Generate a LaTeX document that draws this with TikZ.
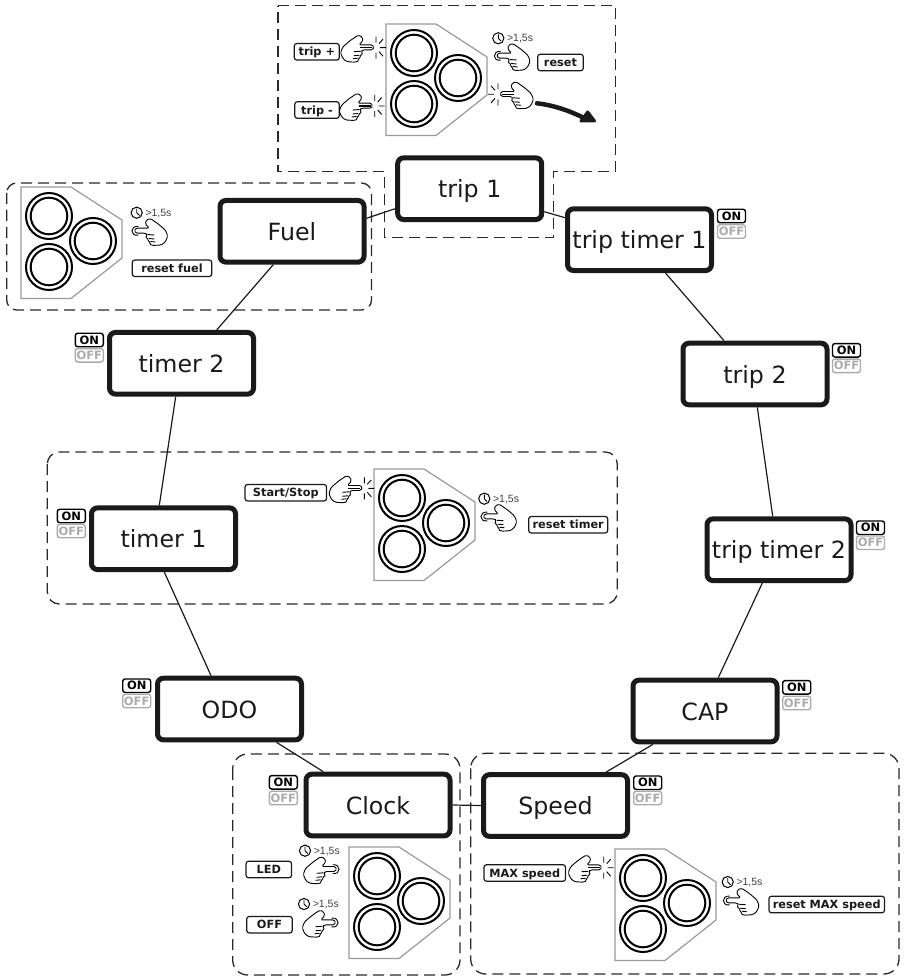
\documentclass[tikz,border=0pt]{standalone}
\usepackage{fontspec}
\setmainfont{DejaVu Sans}
\newfontfamily\smallsans{Liberation Sans}
\definecolor{ink}{HTML}{1A1A1A}
\definecolor{dash}{HTML}{2A2A2A}
\definecolor{podgrey}{HTML}{999999}
\definecolor{offgrey}{HTML}{ABABAB}
\tikzset{
  mode/.style={draw=ink,fill=white,line width=5pt,rounded corners=6pt,minimum width=144pt,minimum height=61.7pt,inner sep=0pt,text=ink,font=\fontsize{23.7}{28}\selectfont,text height=19pt,text depth=0.5pt},
  link/.style={draw=ink,line width=1.2pt},
  zone/.style={draw=dash,line width=1.3pt,dash pattern=on 11pt off 6pt},
  tag/.style={draw=ink,fill=white,line width=1.2pt,rounded corners=2.5pt,inner sep=0pt,font=\bfseries\fontsize{11.3}{13}\selectfont,text=ink,minimum height=16.5pt,text height=8.4pt,text depth=0pt},
  badgeon/.style={draw=black,line width=1.4pt,rounded corners=2.5pt,inner sep=0pt,minimum width=28pt,minimum height=13.5pt,font=\bfseries\fontsize{11.5}{13}\selectfont,text=black,text height=8.3pt,text depth=0pt},
  badgeoff/.style={badgeon,draw=offgrey,text=offgrey},
  slow/.style={inner sep=0pt,anchor=west,font=\smallsans\fontsize{10.5}{12}\selectfont,text=black!75},
  pod/.pic={
    \draw[podgrey,line width=1.2pt,line join=miter] (0,0) -- (50,0) -- (101,33) -- (101,71) -- (50,111.5) -- (0,111.5) -- cycle;
    \foreach \cx/\cy in {28/29,72/54,28/80}{
      \draw[black,line width=2pt] (\cx,\cy) circle (23);
      \draw[black,line width=2pt] (\cx,\cy) circle (18.3);
    }
  },
  clockface/.pic={
    \draw[black,line width=1pt] (0,0) circle (5.6);
    \draw[black,line width=.9pt] (0,-4) -- (0,0) -- (2.8,2.8);
  }
}
\newcommand{\handshape}{%
  \draw[black,line width=.9pt,rounded corners=1.4pt,line join=round]
    (0,-.5) -- (-1.5,-2.8) -- (-15,-2.8) -- (-11,-7) -- (-12,-11) -- (-16,-12.5) -- (-24,-7) -- (-31,-1) -- (-33.5,5) -- (-31,11) -- (-27,14) -- (-18,14.5) -- (-15,13) -- (-16,10.5) -- (-13,10) -- (-14.5,7.5) -- (-11,7) -- (-13,3.5) -- (-11,2.2) -- (-1.5,2.2) -- cycle;
  \draw[black,line width=.9pt] (-13,3.5) -- (-20,4) (-14.5,7.5) -- (-20,8) (-16,10.5) -- (-21,11);}
% #1 = 1 or -1 (facing), #2 #3 = fingertip
\newcommand{\clickhand}[3]{%
  \begin{scope}[shift={(#2,#3)},xscale=#1]
    \handshape
    \draw[black,line width=1.2pt] (-14,0) -- (-2,0);
    \draw[black,line width=.9pt] (2,-5) -- (2,-11) (5,-4) -- (9,-8.5) (6,0) -- (12,0) (5,4) -- (9,8.5) (2,5) -- (2,11);
  \end{scope}}
\newcommand{\holdhand}[3]{%
  \begin{scope}[shift={(#2,#3)},xscale=#1]
    \handshape
    \draw[black,line width=.9pt] (-4,-4.6) .. controls (4.5,-5.5) and (4.5,5.5) .. (-4,4.2);
  \end{scope}}
\newcommand{\onoff}[4]{%
  \node[badgeon] (#1on) at (#2,#3) {ON};
  \node[badgeoff] (#1off) at (#2,#4) {OFF};}
\newcommand{\slowmark}[3]{%
  \pic at (#2,#3) {clockface};
  \node[slow] (#1) at (#2+8.6,#3+.6) {>1,5s};}
\begin{document}
\begin{tikzpicture}[x=1pt,y=-1pt]
\useasboundingbox (0,0) rectangle (904,976);
% dashed zones
\draw[zone] (278,5.7) -- (615.7,5.7) -- (615.7,171.7) -- (553.3,171.7) -- (553.3,237.7) -- (384.7,237.7) -- (384.7,171.7) -- (278,171.7) -- cycle;
\draw[zone,rounded corners=10pt] (6.7,183) rectangle (371.5,310);
\draw[zone,rounded corners=12pt] (47.3,452) rectangle (617.3,604);
\draw[zone,rounded corners=15pt] (232.7,754) rectangle (460,975);
\draw[zone,rounded corners=15pt] (470.7,753.3) rectangle (899,974);
% modes
\node[mode] (trip1) at (469.7,188.7) {trip 1};
\node[mode] (tt1) at (639.5,239.7) {trip timer 1};
\node[mode] (trip2) at (755,374) {trip 2};
\node[mode] (tt2) at (779,549.7) {trip timer 2};
\node[mode] (cap) at (705,711) {CAP};
\node[mode] (speed) at (555.5,805.5) {Speed};
\node[mode] (clock) at (378,805) {Clock};
\node[mode] (odo) at (229.5,709) {ODO};
\node[mode] (timer1) at (163.5,538.7) {timer 1};
\node[mode] (timer2) at (181.5,363.3) {timer 2};
\node[mode] (fuel) at (292,231.3) {Fuel};
% links
\draw[link] ([yshift=13pt]fuel.east) -- ([yshift=-20pt]trip1.west);
\draw[link] ([yshift=-23pt]trip1.east) -- ([yshift=22pt]tt1.west);
\draw[link] ([xshift=26pt]tt1.south) -- ([xshift=-31pt]trip2.north);
\draw[link] ([xshift=2.3pt]trip2.south) -- ([xshift=-6.3pt]tt2.north);
\draw[link] ([xshift=-16.7pt]tt2.south) -- ([xshift=13.3pt]cap.north);
\draw[link] ([xshift=-52pt]cap.south) -- ([xshift=50.5pt]speed.north);
\draw[link] (clock.east) -- (speed.west);
\draw[link] ([xshift=47pt]odo.south) -- ([xshift=-54.7pt]clock.north);
\draw[link] ([xshift=.8pt]timer1.south) -- ([xshift=-18.5pt]odo.north);
\draw[link] ([xshift=-5.8pt]timer2.south) -- ([xshift=-4.2pt]timer1.north);
\draw[link] ([xshift=-18.7pt]fuel.south) -- ([xshift=35.2pt]timer2.north);
% ON/OFF badges
\onoff{a}{731.5}{216}{231.5}
\onoff{b}{846.5}{350.3}{365.8}
\onoff{c}{870.5}{527.7}{542.7}
\onoff{d}{796.7}{687.3}{703}
\onoff{e}{647.7}{782.7}{798}
\onoff{f}{283.3}{782.3}{798}
\onoff{g}{136.7}{685.7}{701}
\onoff{h}{71.3}{516}{531}
\onoff{i}{89.3}{340}{355.3}
% button pods
\pic at (386,24) {pod};
\pic at (21,187) {pod};
\pic at (374,469) {pod};
\pic at (349,847) {pod};
\pic at (615,849) {pod};
% action tags
\node[tag,minimum width=45pt] (tplus) at (316.8,51.8) {trip +};
\node[tag,minimum width=44.5pt] (tminus) at (317,110) {trip -};
\node[tag,minimum width=45.5pt] (treset) at (560.5,62.5) {reset};
\node[tag,minimum width=79.5pt] (freset) at (172,268.3) {reset fuel};
\node[tag,minimum width=81.5pt] (sstop) at (285.8,492.7) {Start/Stop};
\node[tag,minimum width=79pt] (rtimer) at (568.2,524.7) {reset timer};
\node[tag,minimum width=45.5pt] (led) at (268.8,869.5) {LED};
\node[tag,minimum width=45.5pt] (coff) at (269.5,924.7) {OFF};
\node[tag,minimum width=81.5pt] (maxs) at (524.8,873) {MAX speed};
\node[tag,minimum width=115.5pt] (rmax) at (826.7,904.5) {reset MAX speed};
% hands
\clickhand{1}{374}{47.7}
\clickhand{1}{372.7}{106}
\clickhand{1}{362.3}{488.3}
\clickhand{1}{601.7}{867.7}
\holdhand{1}{336.7}{869.3}
\holdhand{1}{335.7}{922.7}
\holdhand{-1}{496.7}{56}
\holdhand{-1}{134.3}{231}
\holdhand{-1}{483.3}{516.7}
\holdhand{-1}{725.7}{900.7}
\clickhand{-1}{500}{94.3}
% slow press marks
\slowmark{sa}{498.3}{38.3}
\slowmark{sb}{136.7}{212.7}
\slowmark{sc}{484.3}{498.7}
\slowmark{sd}{727.7}{882}
\slowmark{se}{305}{850.7}
\slowmark{sf}{304}{904}
% next-mode arrow
\coordinate (nextfrom) at (537,103.3);
\coordinate (nextto) at (584,118);
\draw[ink,line width=4.5pt,line cap=round] (nextfrom) .. controls (552,105) and (568,110) .. (nextto);
\draw[ink,fill=ink,line width=3pt,line join=round] (587.7,112) -- (581,121) -- (594.5,121) -- cycle;
\end{tikzpicture}
\end{document}
